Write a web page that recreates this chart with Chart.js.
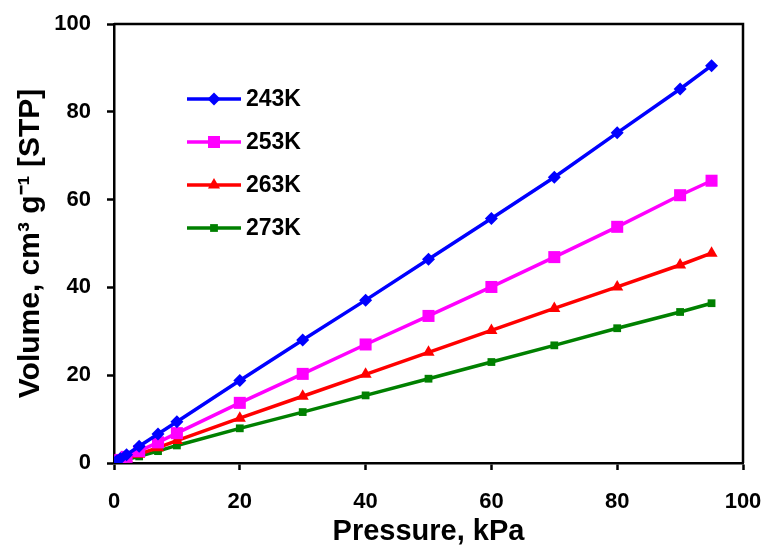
<!DOCTYPE html>
<html>
<head>
<meta charset="utf-8">
<script src="https://cdn.jsdelivr.net/npm/chart.js@4/dist/chart.umd.min.js"></script>
<style>
  html, body { margin: 0; padding: 0; background: #fff; }
  #wrap { width: 767px; height: 551px; position: relative; }
</style>
</head>
<body>
<div id="wrap"><canvas id="chart" width="767" height="551"></canvas></div>
<script>
const pressure = [0.2, 0.5, 1, 2, 4, 7, 10, 20, 30, 40, 50, 60, 70, 80, 90, 95];

const v243 = [0.2, 0.5, 1.0, 1.9, 3.8, 6.6, 9.4, 18.8, 28.0, 37.1, 46.4, 55.7, 65.1, 75.2, 85.2, 90.5];
const v253 = [0.1, 0.3, 0.7, 1.4, 2.7, 4.7, 6.8, 13.7, 20.3, 27.0, 33.5, 40.1, 46.9, 53.8, 61.0, 64.3];
const v263 = [0.1, 0.3, 0.5, 1.0, 2.0, 3.5, 5.1, 10.2, 15.2, 20.2, 25.2, 30.2, 35.2, 40.1, 45.1, 47.8];
const v273 = [0.1, 0.2, 0.4, 0.8, 1.5, 2.7, 4.0, 7.9, 11.6, 15.4, 19.2, 23.0, 26.8, 30.7, 34.4, 36.4];

const seriesLabels = ['243K', '253K', '263K', '273K'];
const xTicks = [0, 20, 40, 60, 80, 100];
const yTicks = [0, 20, 40, 60, 80, 100];

const FONT = '"Liberation Sans", Arial, sans-serif';

function toPoints(vals) {
  return vals.map((v, i) => ({ x: pressure[i], y: v }));
}

const styles = [
  { color: '#0000ff', pointStyle: 'rectRot', radius: 6.5 },
  { color: '#ff00ff', pointStyle: 'rect', radius: 8.5 },
  { color: '#ff0000', pointStyle: 'triangle', radius: 7 },
  { color: '#008000', pointStyle: 'rect', radius: 5.5 }
];

const datasets = [v243, v253, v263, v273].map((vals, i) => ({
  label: seriesLabels[i],
  data: toPoints(vals),
  borderColor: styles[i].color,
  backgroundColor: styles[i].color,
  borderWidth: 3.5,
  pointStyle: styles[i].pointStyle,
  pointRadius: styles[i].radius,
  pointBorderWidth: 0,
  tension: 0
}));

// box round the plot area, like the original
const frame = {
  id: 'frame',
  afterDraw(chart) {
    const { ctx, chartArea } = chart;
    ctx.save();
    ctx.strokeStyle = '#000';
    ctx.lineWidth = 2.5;
    ctx.beginPath();
    ctx.moveTo(chartArea.left, chartArea.top);
    ctx.lineTo(chartArea.right, chartArea.top);
    ctx.lineTo(chartArea.right, chartArea.bottom);
    ctx.stroke();
    ctx.restore();
  }
};

// legend drawn inside the plot area
const insideLegend = {
  id: 'insideLegend',
  afterDatasetsDraw(chart) {
    const ctx = chart.ctx;
    const x0 = 187, x1 = 241, rowY = [99, 142, 185, 228];
    ctx.save();
    chart.data.datasets.forEach((ds, i) => {
      const y = rowY[i];
      ctx.strokeStyle = ds.borderColor;
      ctx.lineWidth = 3.5;
      ctx.beginPath();
      ctx.moveTo(x0, y);
      ctx.lineTo(x1, y);
      ctx.stroke();
      ctx.fillStyle = ds.backgroundColor;
      Chart.helpers.drawPoint(ctx, {
        pointStyle: ds.pointStyle,
        radius: ds.pointRadius,
        rotation: 0,
        borderWidth: 0
      }, (x0 + x1) / 2, y);
      ctx.fillStyle = '#000';
      ctx.font = 'bold 23px ' + FONT;
      ctx.textAlign = 'left';
      ctx.textBaseline = 'middle';
      ctx.fillText(ds.label, 246, y + 1);
    });
    ctx.restore();
  }
};

new Chart(document.getElementById('chart'), {
  type: 'line',
  data: { datasets },
  options: {
    responsive: false,
    animation: false,
    layout: { padding: { top: 24, right: 24, left: 0, bottom: 0 } },
    plugins: {
      legend: { display: false },
      tooltip: { enabled: false }
    },
    scales: {
      x: {
        type: 'linear',
        min: 0,
        max: 100,
        afterFit(scale) {
          scale.height = 88;
          scale.paddingLeft = 0;
          scale.paddingRight = 0;
        },
        afterBuildTicks(scale) { scale.ticks = xTicks.map(v => ({ value: v })); },
        border: { color: '#000', width: 2.5 },
        grid: { drawOnChartArea: false, color: '#000', tickLength: 7, tickWidth: 2.5 },
        ticks: {
          color: '#000',
          padding: 19,
          font: { family: FONT, size: 22, weight: 'bold' }
        },
        title: {
          display: true,
          text: 'Pressure, kPa',
          color: '#000',
          padding: { top: 0, bottom: 2 },
          font: { family: FONT, size: 29, weight: 'bold' }
        }
      },
      y: {
        min: 0,
        max: 100,
        afterFit(scale) {
          scale.width = 114;
          scale.paddingTop = 0;
          scale.paddingBottom = 0;
        },
        afterBuildTicks(scale) { scale.ticks = yTicks.map(v => ({ value: v })); },
        border: { color: '#000', width: 2.5 },
        grid: { drawOnChartArea: false, color: '#000', tickLength: 7, tickWidth: 2.5 },
        ticks: {
          color: '#000',
          padding: 16,
          font: { family: FONT, size: 22, weight: 'bold' }
        },
        title: {
          display: true,
          text: 'Volume, cm³ g⁻¹ [STP]',
          color: '#000',
          padding: { top: 13, bottom: 0 },
          font: { family: FONT, size: 30, weight: 'bold' }
        }
      }
    }
  },
  plugins: [frame, insideLegend]
});
</script>
</body>
</html>
